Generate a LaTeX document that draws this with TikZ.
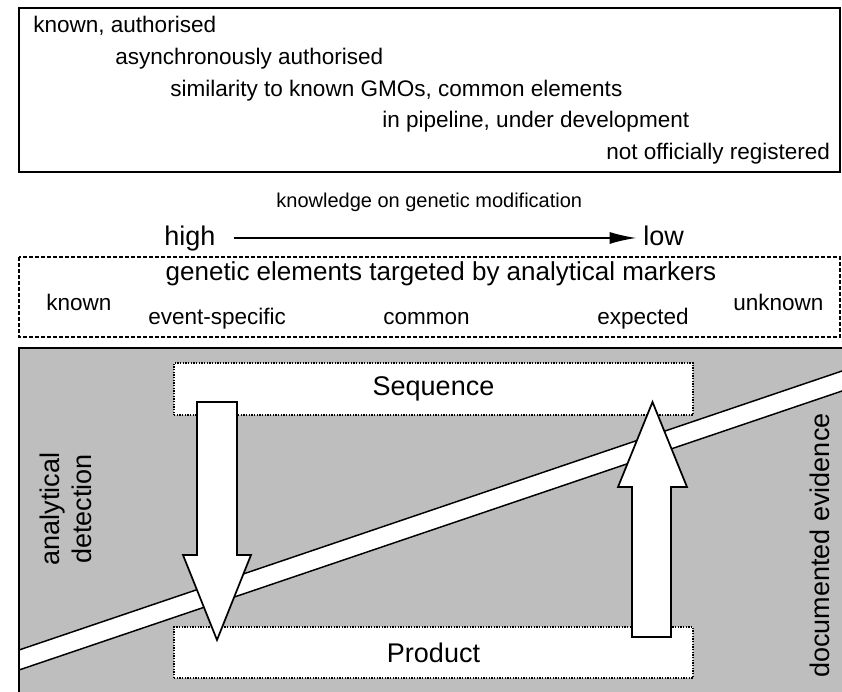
\documentclass[tikz,border=0pt]{standalone}
\usepackage{fontspec}
\setmainfont{Liberation Sans}
\usetikzlibrary{arrows.meta}
\definecolor{panelgray}{RGB}{190,190,190}

\begin{document}
\begin{tikzpicture}[x=0.75pt,y=-0.75pt,>={Latex[length=20pt,width=9pt]},
    bigtxt/.style={font=\fontsize{20.25}{24}\selectfont,inner sep=0pt},
    medtxt/.style={font=\fontsize{16.9}{20}\selectfont,inner sep=0pt},
    smalltxt/.style={font=\fontsize{15}{18}\selectfont,inner sep=0pt},
    dotbox/.style={draw,fill=white,line width=0.8pt,dash pattern=on 1pt off 1pt,font=\fontsize{20.25}{24}\selectfont},
    blockarrow/.style={draw,fill=white,line width=1.3pt,line join=miter}]
  \useasboundingbox (0,0) rectangle (842,692);
  \clip (0,0) rectangle (842,692);
  % status of the GMO
  \draw[line width=1.5pt] (19,8) rectangle (840,172);
  \node[medtxt,anchor=base west] (known) at (33,33) {known, authorised};
  \node[medtxt,anchor=base west] (async) at (115,64.5) {asynchronously authorised};
  \node[medtxt,anchor=base west] (similar) at (170,96) {similarity to known GMOs, common elements};
  \node[medtxt,anchor=base west] (pipeline) at (382,127.5) {in pipeline, under development};
  \node[medtxt,anchor=base west] (unreg) at (606,159) {not officially registered};
  % knowledge axis
  \node[bigtxt,text height=14.8pt,text depth=4.25pt,anchor=base west] (high) at (164,245) {high};
  \node[bigtxt,text height=14.8pt,text depth=4.25pt,anchor=base west] (low) at (643,245) {low};
  \draw[->,line width=1.2pt,shorten <=13.5pt,shorten >=5pt] (high) --
    node[smalltxt,above=19pt] (knowl) {knowledge on genetic modification} (low);
  % markers
  \draw[line width=0.8pt,dash pattern=on 3pt off 1.5pt] (19,257) rectangle (840,337);
  \node[font=\fontsize{19.5}{24}\selectfont,inner sep=0pt,anchor=base] (markers) at (441,280)
    {genetic elements targeted by analytical markers};
  \node[medtxt,anchor=base west] (mknown) at (46,310) {known};
  \node[medtxt,anchor=base west] (event) at (148,324) {event-specific};
  \node[medtxt,anchor=base west] (common) at (383,324) {common};
  \node[medtxt,anchor=base west] (expect) at (597,324) {expected};
  \node[medtxt,anchor=base west] (unknown) at (733,310) {unknown};
  % grey panel with band
  \fill[panelgray] (19,348) rectangle (860,700);
  \fill[white] (19,650) -- (860,364.9) -- (860,384.9) -- (19,670) -- cycle;
  \draw[line width=1.1pt] (19,650) -- (860,364.9);
  \draw[line width=1.1pt] (19,670) -- (860,384.9);
  \draw[line width=1.5pt] (19,700) -- (19,348) -- (860,348);
  \node[dotbox,minimum width=389.25pt,minimum height=39pt] (seq) at (433.5,389) {Sequence};
  \node[dotbox,minimum width=389.25pt,minimum height=38.25pt] (prod) at (433.5,652.5) {Product};
  \draw[blockarrow] (197,402) -- (237,402) -- (237,555) -- (251,555) -- (217,640)
    -- (183,555) -- (197,555) -- cycle;
  \draw[blockarrow] (632,637) -- (671,637) -- (671,487) -- (687,487) -- (652.5,402)
    -- (618,487) -- (632,487) -- cycle;
  \node[bigtxt,rotate=90,align=center] (detect) at (66,509) {analytical\\detection};
  \node[bigtxt,rotate=90] (evid) at (820,545.5) {documented evidence};
\end{tikzpicture}
\end{document}
